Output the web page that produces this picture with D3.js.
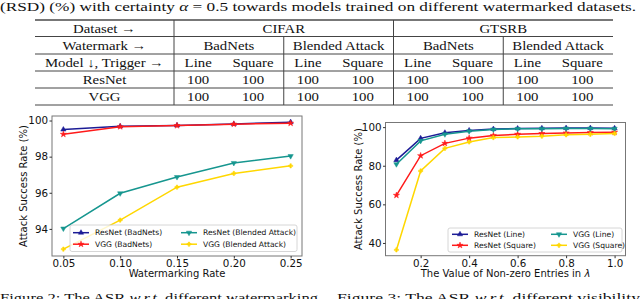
<!DOCTYPE html>
<html>
<head>
<meta charset="utf-8">
<script src="https://cdn.jsdelivr.net/npm/d3@7"></script>
<style>
  body { margin: 0; background: #fff; }
  svg { display: block; }
</style>
</head>
<body>
<div id="page"></div>
<script>
// table data
const datasets = ['CIFAR', 'GTSRB'];
const watermarks = ['BadNets', 'Blended Attack'];
const triggers = ['Line', 'Square'];
const models = ['ResNet', 'VGG'];
const resnetRSD = [100, 100, 100, 100, 100, 100, 100, 100];
const vggRSD = [100, 100, 100, 100, 100, 100, 100, 100];

// figure 2 data
const rates = [0.05, 0.10, 0.15, 0.20, 0.25];
const rateTicks = [0.05, 0.10, 0.15, 0.20, 0.25];
const asrTicks2 = [94, 96, 98, 100];
const resnetBadNets = [99.5, 99.68, 99.73, 99.81, 99.91];
const vggBadNets = [99.24, 99.66, 99.72, 99.8, 99.85];
const resnetBlended = [94.02, 95.97, 96.87, 97.65, 98.03];
const vggBlended = [92.88, 94.49, 96.31, 97.07, 97.49];

// figure 3 data
const lambdas = [0.1, 0.2, 0.3, 0.4, 0.5, 0.6, 0.7, 0.8, 0.9, 1.0];
const lambdaTicks = [0.2, 0.4, 0.6, 0.8, 1.0];
const asrTicks3 = [40, 60, 80, 100];
const resnetLine = [82.9, 94.2, 97.1, 98.3, 99.0, 99.3, 99.4, 99.5, 99.5, 99.4];
const resnetSquare = [64.7, 85.2, 91.6, 94.3, 95.7, 96.3, 96.7, 97.0, 97.2, 97.4];
const vggLine = [80.8, 92.9, 96.3, 97.9, 98.8, 99.1, 99.2, 99.3, 99.3, 99.2];
const vggSquare = [36.4, 77.3, 89.0, 92.3, 94.6, 94.9, 95.3, 96.0, 96.3, 96.7];

const SERIF = 'Liberation Serif';
const SANS = 'DejaVu Sans';

const width = 640, height = 299;
const svg = d3.select('#page').append('svg').attr('width', width).attr('height', height);

// the page scan is a bit wider than tall, so serif text gets a horizontal stretch
function serifText(sel, x, y, size, stretch = 1) {
  return sel.append('text').attr('font-family', SERIF).attr('fill', '#111')
    .attr('transform', `translate(${x},${y}) scale(${stretch},1)`).attr('font-size', size);
}

// ---------- caption above the table ----------
const cap = svg.append('text').attr('font-family', SERIF).attr('fill', '#111')
  .attr('x', 0).attr('y', 10.5).attr('font-size', 13.4)
  .attr('textLength', 636).attr('lengthAdjust', 'spacingAndGlyphs');
cap.append('tspan').text('(RSD) (%) with certainty ');
cap.append('tspan').attr('font-style', 'italic').text('α');
cap.append('tspan').text(' = 0.5 towards models trained on different watermarked datasets.');

// ---------- table ----------
const tLeft = 35, tRight = 613, tSplit = 174;
const rowY = [20, 36.5, 54, 71, 88, 105];
const groups = [];
datasets.forEach((d) => watermarks.forEach((w) => groups.push({ d, w })));
const gx = d3.scaleBand().domain(d3.range(groups.length)).range([tSplit, tRight]);
const dx = d3.scaleBand().domain(datasets).range([tSplit, tRight]);
const tx = d3.scalePoint().domain(triggers).range([0.22, 0.72]);

const tbl = svg.append('g');
// horizontal rules
tbl.selectAll('line.h').data(rowY).join('line')
  .attr('x1', tLeft).attr('x2', tRight)
  .attr('y1', (d) => d).attr('y2', (d) => d)
  .attr('stroke', (d, i) => (i === 0 ? '#777' : '#444'))
  .attr('stroke-width', (d, i) => (i === 0 ? 2 : 1));
// vertical rules
tbl.append('line').attr('x1', tSplit).attr('x2', tSplit).attr('y1', rowY[0]).attr('y2', rowY[5])
  .attr('stroke', '#444');
tbl.append('line').attr('x1', dx('GTSRB')).attr('x2', dx('GTSRB')).attr('y1', rowY[0]).attr('y2', rowY[5])
  .attr('stroke', '#444');
[1, 3].forEach((i) => {
  tbl.append('line').attr('x1', gx(i)).attr('x2', gx(i)).attr('y1', rowY[1]).attr('y2', rowY[5])
    .attr('stroke', '#444');
});

const fs = 13, st = 1.14;
const rowBase = (i) => rowY[i + 1] - 4;
const headCx = (tLeft + tSplit) / 2;
['Dataset →', 'Watermark →', 'Model ↓, Trigger →'].forEach((t, i) => {
  serifText(tbl, headCx, rowBase(i), fs, st).attr('text-anchor', 'middle').text(t);
});
models.forEach((m, i) => {
  serifText(tbl, headCx, rowBase(3 + i), fs, st).attr('text-anchor', 'middle').text(m);
});
datasets.forEach((d) => {
  serifText(tbl, dx(d) + dx.bandwidth() / 2, rowBase(0), fs, st).attr('text-anchor', 'middle').text(d);
});
groups.forEach((g, i) => {
  serifText(tbl, gx(i) + gx.bandwidth() / 2, rowBase(1), fs, st).attr('text-anchor', 'middle').text(g.w);
  triggers.forEach((t, j) => {
    const cx = gx(i) + tx(t) * gx.bandwidth();
    serifText(tbl, cx, rowBase(2), fs, st).attr('text-anchor', 'middle').text(t);
    [resnetRSD, vggRSD].forEach((vals, k) => {
      serifText(tbl, cx, rowBase(3 + k), fs, st).attr('text-anchor', 'middle').text(vals[i * 2 + j]);
    });
  });
});

// ---------- charts ----------
const markers = {
  up: d3.symbol().type(d3.symbolTriangle).size(12),
  down: d3.symbol().type(d3.symbolTriangle).size(12),
  star: d3.symbol().type(d3.symbolStar).size(12),
  plus: d3.symbol().type(d3.symbolCross).size(10),
};

function drawChart(cfg) {
  const x = d3.scaleLinear().domain(cfg.xDomain).range(cfg.xRange);
  const y = d3.scaleLinear().domain(cfg.yDomain).range(cfg.yRange);
  const g = svg.append('g');

  const line = d3.line().x((d) => x(d[0])).y((d) => y(d[1]));
  cfg.series.forEach((s) => {
    const pts = cfg.xs.map((v, i) => [v, s.values[i]]);
    g.append('path').datum(pts).attr('d', line).attr('fill', 'none')
      .attr('stroke', s.color).attr('stroke-width', 1.5);
    g.selectAll(null).data(pts).join('path')
      .attr('transform', (d) => `translate(${x(d[0])},${y(d[1])})` + (s.marker === 'down' ? ' rotate(180)' : ''))
      .attr('d', markers[s.marker]())
      .attr('fill', s.color).attr('stroke', s.color).attr('stroke-width', 0.5);
  });

  // frame
  g.append('rect')
    .attr('x', cfg.xRange[0]).attr('y', cfg.yRange[1])
    .attr('width', cfg.xRange[1] - cfg.xRange[0]).attr('height', cfg.yRange[0] - cfg.yRange[1])
    .attr('fill', 'none').attr('stroke', '#777').attr('stroke-width', 1);

  const xAxis = g.append('g').attr('transform', `translate(0,${cfg.yRange[0]})`)
    .call(d3.axisBottom(x).tickValues(cfg.xTicks).tickFormat(cfg.xFormat).tickSize(2.5).tickPadding(1));
  const yAxis = g.append('g').attr('transform', `translate(${cfg.xRange[0]},0)`)
    .call(d3.axisLeft(y).tickValues(cfg.yTicks).tickSize(2.5).tickPadding(1.5));
  [xAxis, yAxis].forEach((a) => {
    a.select('.domain').remove();
    a.selectAll('.tick line').attr('stroke', '#333');
    a.selectAll('.tick text').attr('font-family', SANS)
      .attr('font-size', 10.3).attr('fill', '#111');
  });

  g.append('text').attr('font-family', SANS).attr('fill', '#111').attr('font-size', 10)
    .attr('x', (cfg.xRange[0] + cfg.xRange[1]) / 2).attr('y', 276.5)
    .attr('text-anchor', 'middle').html(cfg.xLabel);
  g.append('text').attr('font-family', SANS).attr('fill', '#111').attr('font-size', 10)
    .attr('transform', `translate(${cfg.yLabelX},${(cfg.yRange[0] + cfg.yRange[1]) / 2}) rotate(-90)`)
    .attr('text-anchor', 'middle').attr('dy', '0.35em').text('Attack Success Rate (%)');

  // legend
  const L = cfg.legend;
  const lg = g.append('g');
  lg.append('rect').attr('x', L.x).attr('y', L.y).attr('width', L.w).attr('height', L.h)
    .attr('rx', 2).attr('fill', 'rgba(255,255,255,0.8)').attr('stroke', '#ccc').attr('stroke-width', 0.8);
  cfg.series.forEach((s, i) => {
    const col = Math.floor(i / 2), row = i % 2;
    const lx = L.cols[col], ly = L.rows[row];
    lg.append('line').attr('x1', lx).attr('x2', lx + 16).attr('y1', ly).attr('y2', ly)
      .attr('stroke', s.color).attr('stroke-width', 1.5);
    lg.append('path')
      .attr('transform', `translate(${lx + 8},${ly})` + (s.marker === 'down' ? ' rotate(180)' : ''))
      .attr('d', markers[s.marker]()).attr('fill', s.color).attr('stroke', s.color).attr('stroke-width', 0.5);
    lg.append('text').attr('font-family', SANS).attr('fill', '#111').attr('font-size', 7.6)
      .attr('x', lx + 22).attr('y', ly).attr('dy', '0.35em').text(s.name);
  });
}

drawChart({
  xs: rates,
  xDomain: [0.04, 0.26], xRange: [52, 302],
  yDomain: [92.5, 100.25], yRange: [256, 116],
  xTicks: rateTicks, xFormat: d3.format('.2f'), yTicks: asrTicks2,
  xLabel: 'Watermarking Rate', yLabelX: 23,
  series: [
    { name: 'ResNet (BadNets)', values: resnetBadNets, color: '#1c1c96', marker: 'up' },
    { name: 'VGG (BadNets)', values: vggBadNets, color: '#ff1a1a', marker: 'star' },
    { name: 'ResNet (Blended Attack)', values: resnetBlended, color: '#16968f', marker: 'down' },
    { name: 'VGG (Blended Attack)', values: vggBlended, color: '#ffd700', marker: 'plus' },
  ],
  legend: { x: 70, y: 225, w: 227, h: 26.5, cols: [73, 181], rows: [232.7, 244.2] },
});

drawChart({
  xs: lambdas,
  xDomain: [0.055, 1.045], xRange: [385.5, 625.5],
  yDomain: [33.4, 102.4], yRange: [255.7, 122.5],
  xTicks: lambdaTicks, xFormat: d3.format('.1f'), yTicks: asrTicks3,
  xLabel: 'The Value of Non-zero Entries in <tspan font-style="italic">λ</tspan>', yLabelX: 358,
  series: [
    { name: 'ResNet (Line)', values: resnetLine, color: '#1c1c96', marker: 'up' },
    { name: 'ResNet (Square)', values: resnetSquare, color: '#ff1a1a', marker: 'star' },
    { name: 'VGG (Line)', values: vggLine, color: '#16968f', marker: 'down' },
    { name: 'VGG (Square)', values: vggSquare, color: '#ffd700', marker: 'plus' },
  ],
  legend: { x: 448, y: 228, w: 174, h: 24, cols: [452, 551], rows: [234.3, 245.3] },
});

// ---------- figure captions (cut at the bottom edge) ----------
const c2 = svg.append('text').attr('font-family', SERIF).attr('fill', '#111')
  .attr('x', 0).attr('y', 301.5).attr('font-size', 13.4)
  .attr('textLength', 318).attr('lengthAdjust', 'spacingAndGlyphs');
c2.append('tspan').text('Figure 2: The ASR ');
c2.append('tspan').attr('font-style', 'italic').text('w.r.t.');
c2.append('tspan').text(' different watermarking');
const c3 = svg.append('text').attr('font-family', SERIF).attr('fill', '#111')
  .attr('x', 337).attr('y', 301.5).attr('font-size', 13.4)
  .attr('textLength', 303).attr('lengthAdjust', 'spacingAndGlyphs');
c3.append('tspan').text('Figure 3: The ASR ');
c3.append('tspan').attr('font-style', 'italic').text('w.r.t.');
c3.append('tspan').text(' different visibility');
</script>
</body>
</html>
